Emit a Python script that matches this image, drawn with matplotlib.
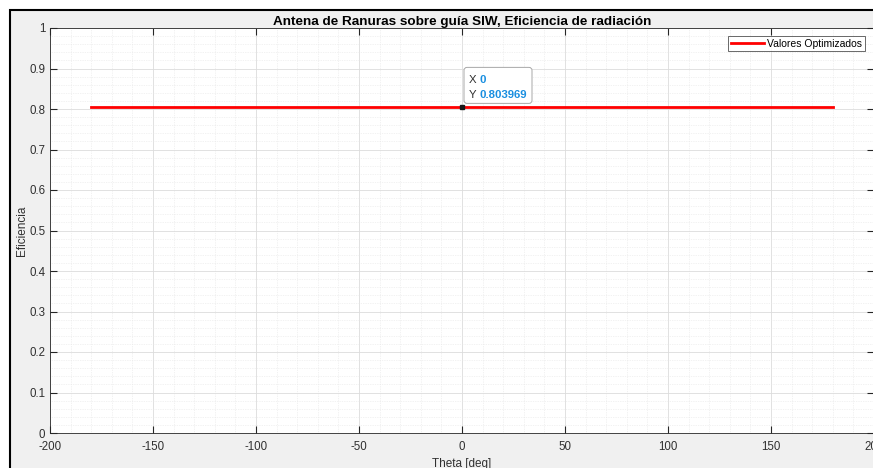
import numpy as np
import matplotlib
matplotlib.use("Agg")
import matplotlib.pyplot as plt
from matplotlib.patches import Rectangle, FancyBboxPatch
from matplotlib.ticker import MultipleLocator
from matplotlib.transforms import IdentityTransform, offset_copy

# data
theta = [-180, 180]
eficiencia = [0.803969, 0.803969]
tip_x = 0
tip_y = 0.803969
xticks = [-200, -150, -100, -50, 0, 50, 100, 150, 200]
yticks = [0, 0.1, 0.2, 0.3, 0.4, 0.5, 0.6, 0.7, 0.8, 0.9, 1]
ytick_labels = ['0', '0.1', '0.2', '0.3', '0.4', '0.5', '0.6', '0.7', '0.8', '0.9', '1']

plt.rcParams['font.family'] = ['Liberation Sans', 'DejaVu Sans']
plt.rcParams['axes.unicode_minus'] = False
txt_gray = '#303030'

fig = plt.figure(figsize=(8.73, 4.68), dpi=100, facecolor='white')
# matlab figure window background with its black frame
fig.patches.append(Rectangle((10/873, -0.1), 1.1, 1 - 10/468 + 0.1, transform=fig.transFigure,
                             facecolor='#f0f0f0', edgecolor='black', linewidth=1.5, zorder=-10))

ax = fig.add_axes([50/873, 35/468, 824/873, 405/468])
ax.set_facecolor('white')

ax.plot(theta, eficiencia, color='#ff0000', linewidth=2, label='Valores Optimizados', zorder=3)
ax.plot([tip_x], [tip_y], marker='s', markersize=3.2, color='#1a1a1a', markeredgecolor='#1a1a1a', zorder=7)

ax.set_xlim(-200, 200)
ax.set_ylim(0, 1)
ax.set_xticks(xticks)
ax.set_yticks(yticks)
ax.set_yticklabels(ytick_labels)
ax.xaxis.set_minor_locator(MultipleLocator(10))
ax.yaxis.set_minor_locator(MultipleLocator(0.02))

ax.grid(which='major', color='#dcdcdc', linewidth=0.6)
ax.grid(which='minor', color='#e6e6e6', linewidth=0.5, linestyle=(0, (1, 1.5)))
ax.set_axisbelow(True)

ax.tick_params(which='major', direction='in', length=5, width=0.8, color='#262626',
               top=True, right=True, labelsize=8.3, labelcolor=txt_gray)
ax.tick_params(axis='x', pad=6)
ax.tick_params(axis='y', pad=3.5)
ax.tick_params(which='minor', length=0, top=True, right=True)
for s in ax.spines.values():
    s.set_color('#262626')
    s.set_linewidth(0.6)

ax.set_title('Antena de Ranuras sobre guía SIW, Eficiencia de radiación',
             fontsize=9.7, fontweight='bold', color='black', pad=2.5)
ax.set_xlabel('Theta [deg]', fontsize=8.5, color=txt_gray, labelpad=3)
ax.set_ylabel('Eficiencia', fontsize=8.5, color=txt_gray, labelpad=1)

leg = ax.legend(loc='upper right', fontsize=7.5, frameon=True, fancybox=False, handlelength=3.2,
                borderpad=0.25, handletextpad=0.3, borderaxespad=0)
leg.get_frame().set_edgecolor('#262626')
leg.get_frame().set_linewidth(0.6)
leg.set_bbox_to_anchor((865/873, 1 - 36/468), transform=fig.transFigure)

# datatip box, placed in pixels from the data point
px, py = ax.transData.transform((tip_x, tip_y))
ax.add_patch(FancyBboxPatch((px + 2, py + 4), 68, 36, transform=IdentityTransform(),
                            boxstyle='round,pad=0,rounding_size=3', facecolor='white',
                            edgecolor='#a8a8a8', linewidth=0.7, zorder=6, clip_on=False))
ax.text(tip_x, tip_y, 'X', transform=offset_copy(ax.transData, fig=fig, x=7, y=27, units='dots'),
        fontsize=8.2, color='#303030', va='center', ha='left', zorder=8)
ax.text(tip_x, tip_y, str(tip_x), transform=offset_copy(ax.transData, fig=fig, x=18, y=27, units='dots'),
        fontsize=8.2, color='#1a8fe0', fontweight='bold', va='center', ha='left', zorder=8)
ax.text(tip_x, tip_y, 'Y', transform=offset_copy(ax.transData, fig=fig, x=7, y=12, units='dots'),
        fontsize=8.2, color='#303030', va='center', ha='left', zorder=8)
ax.text(tip_x, tip_y, f'{tip_y:.6f}', transform=offset_copy(ax.transData, fig=fig, x=18, y=12, units='dots'),
        fontsize=8.2, color='#1a8fe0', fontweight='bold', va='center', ha='left', zorder=8)

fig.savefig('out.png', dpi=100, facecolor=fig.get_facecolor())
